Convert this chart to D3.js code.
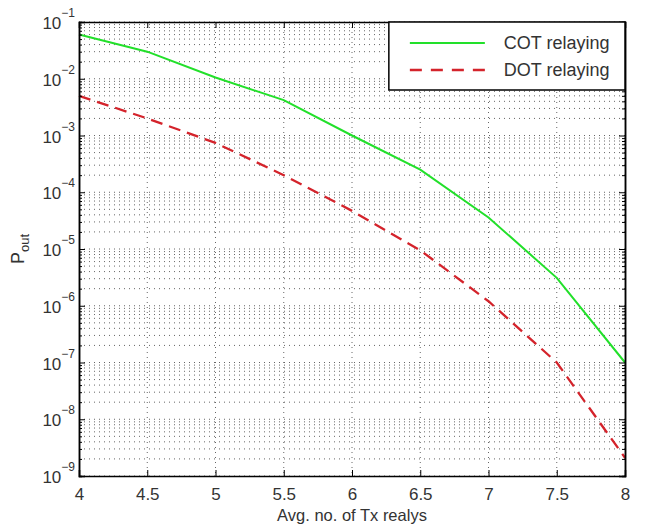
<!DOCTYPE html>
<html>
<head>
<meta charset="utf-8">
<script src="https://cdn.jsdelivr.net/npm/d3@7"></script>
<style>
  body { margin: 0; background: #fff; }
  text { font-family: "Liberation Sans", Arial, sans-serif; fill: #333; }
</style>
</head>
<body>
<div id="chart"></div>
<script>
// values
var txRelays = [4, 4.5, 5, 5.5, 6, 6.5, 7, 7.5, 8];
var cotOut = [0.06, 0.03, 0.0105, 0.0042, 0.001, 0.00025, 0.000036, 0.0000031, 0.0000001];
var dotOut = [0.005, 0.002, 0.00074, 0.0002, 0.000047, 0.0000095, 0.0000012, 0.0000001, 0.0000000021];
var xTicks = [4, 4.5, 5, 5.5, 6, 6.5, 7, 7.5, 8];
var yExps = [-1, -2, -3, -4, -5, -6, -7, -8, -9];
var seriesNames = ["COT relaying", "DOT relaying"];

var svgWidth = 645;
var svgHeight = 527;
var margin = { top: 22, right: 20, bottom: 51, left: 79 };
var width = svgWidth - margin.left - margin.right;
var height = svgHeight - margin.top - margin.bottom;

var svg = d3.select("#chart")
    .append("svg")
    .attr("width", svgWidth)
    .attr("height", svgHeight);

var chartGroup = svg.append("g")
    .attr("transform", `translate(${margin.left}, ${margin.top})`);

var xScale = d3.scaleLinear().domain([4, 8]).range([0, width]);
var yScale = d3.scaleLog().domain([1e-9, 1e-1]).range([height, 0]);

// minor log values for grid + small ticks
var minorVals = [];
for (var e = -9; e < -1; e++) {
    for (var m = 2; m <= 9; m++) minorVals.push(m * Math.pow(10, e));
}
var majorVals = yExps.map(d => Math.pow(10, d));

// grid
var grid = chartGroup.append("g").attr("class", "grid");
grid.selectAll("line.hmin")
    .data(minorVals.concat(majorVals))
    .enter().append("line")
    .attr("x1", 0).attr("x2", width)
    .attr("y1", d => yScale(d)).attr("y2", d => yScale(d))
    .attr("stroke", "#666")
    .attr("stroke-width", 1)
    .attr("stroke-dasharray", "1,4");
grid.selectAll("line.v")
    .data(xTicks.slice(1, -1))
    .enter().append("line")
    .attr("x1", d => xScale(d)).attr("x2", d => xScale(d))
    .attr("y1", 0).attr("y2", height)
    .attr("stroke", "#666")
    .attr("stroke-width", 1)
    .attr("stroke-dasharray", "1,4");

// lines
var line = d3.line()
    .x((d, i) => xScale(txRelays[i]))
    .y(d => yScale(d));

chartGroup.append("path")
    .datum(cotOut)
    .attr("d", line)
    .attr("fill", "none")
    .attr("stroke", "#22e02a")
    .attr("stroke-width", 2);

chartGroup.append("path")
    .datum(dotOut)
    .attr("d", line)
    .attr("fill", "none")
    .attr("stroke", "#d4232b")
    .attr("stroke-width", 2.3)
    .attr("stroke-dasharray", "12,7");

// axes with inward ticks
var bottomAxis = d3.axisBottom(xScale).tickValues(xTicks).tickSize(-6).tickPadding(12)
    .tickFormat(d3.format("~g"));
var topAxis = d3.axisTop(xScale).tickValues(xTicks).tickSize(-6).tickFormat("");
var leftAxis = d3.axisLeft(yScale).tickValues(majorVals).tickSize(-6).tickFormat("");
var rightAxis = d3.axisRight(yScale).tickValues(majorVals).tickSize(-6).tickFormat("");
var leftMinor = d3.axisLeft(yScale).tickValues(minorVals).tickSize(-3).tickFormat("");
var rightMinor = d3.axisRight(yScale).tickValues(minorVals).tickSize(-3).tickFormat("");

function styleAxis(g) {
    g.select(".domain").attr("stroke", "#000").attr("stroke-width", 1.5);
    g.selectAll(".tick line").attr("stroke", "#000");
    g.selectAll("text").attr("font-size", 17).attr("fill", "#444")
        .attr("font-family", "'Liberation Sans', Arial, sans-serif");
}

chartGroup.append("g").call(leftMinor).call(styleAxis);
chartGroup.append("g").attr("transform", `translate(${width},0)`).call(rightMinor).call(styleAxis);
chartGroup.append("g").attr("transform", `translate(0,${height})`).call(bottomAxis).call(styleAxis);
chartGroup.append("g").call(topAxis).call(styleAxis);
chartGroup.append("g").call(leftAxis).call(styleAxis);
chartGroup.append("g").attr("transform", `translate(${width},0)`).call(rightAxis).call(styleAxis);

// y tick labels as 10^n
var yLab = chartGroup.selectAll("text.ylab")
    .data(yExps)
    .enter().append("text")
    .attr("class", "ylab")
    .attr("x", -4)
    .attr("y", d => yScale(Math.pow(10, d)) + 7)
    .attr("text-anchor", "end")
    .attr("font-size", 17)
    .attr("fill", "#444");
yLab.append("tspan").text("10");
yLab.append("tspan").attr("dy", -12).attr("font-size", 12).text(d => "\u2212" + Math.abs(d));

// legend
var legend = chartGroup.append("g")
    .attr("transform", `translate(${xScale(6.27)}, 0)`);
legend.append("rect")
    .attr("width", xScale(8) - xScale(6.27))
    .attr("height", 68)
    .attr("fill", "#fff")
    .attr("stroke", "#000")
    .attr("stroke-width", 1.5);
legend.selectAll("line.leg")
    .data(seriesNames)
    .enter().append("line")
    .attr("x1", 21).attr("x2", 96)
    .attr("y1", (d, i) => 21 + i * 27).attr("y2", (d, i) => 21 + i * 27)
    .attr("stroke", (d, i) => i === 0 ? "#22e02a" : "#d4232b")
    .attr("stroke-width", (d, i) => i === 0 ? 2 : 2.3)
    .attr("stroke-dasharray", (d, i) => i === 0 ? null : "12,9");
legend.selectAll("text.leg")
    .data(seriesNames)
    .enter().append("text")
    .attr("x", 115)
    .attr("y", (d, i) => 27 + i * 27)
    .attr("font-size", 18)
    .attr("fill", "#222")
    .text(d => d);

// axis labels
svg.append("text")
    .attr("x", margin.left + width / 2)
    .attr("y", 521)
    .attr("text-anchor", "middle")
    .attr("font-size", 16.5)
    .attr("fill", "#444")
    .text("Avg. no. of Tx realys");

var yTitle = svg.append("text")
    .attr("transform", `translate(24, ${margin.top + height / 2}) rotate(-90)`)
    .attr("text-anchor", "middle")
    .attr("font-size", 18)
    .attr("fill", "#444");
yTitle.append("tspan").text("P");
yTitle.append("tspan").attr("dy", 5).attr("font-size", 13).text("out");
</script>
</body>
</html>
